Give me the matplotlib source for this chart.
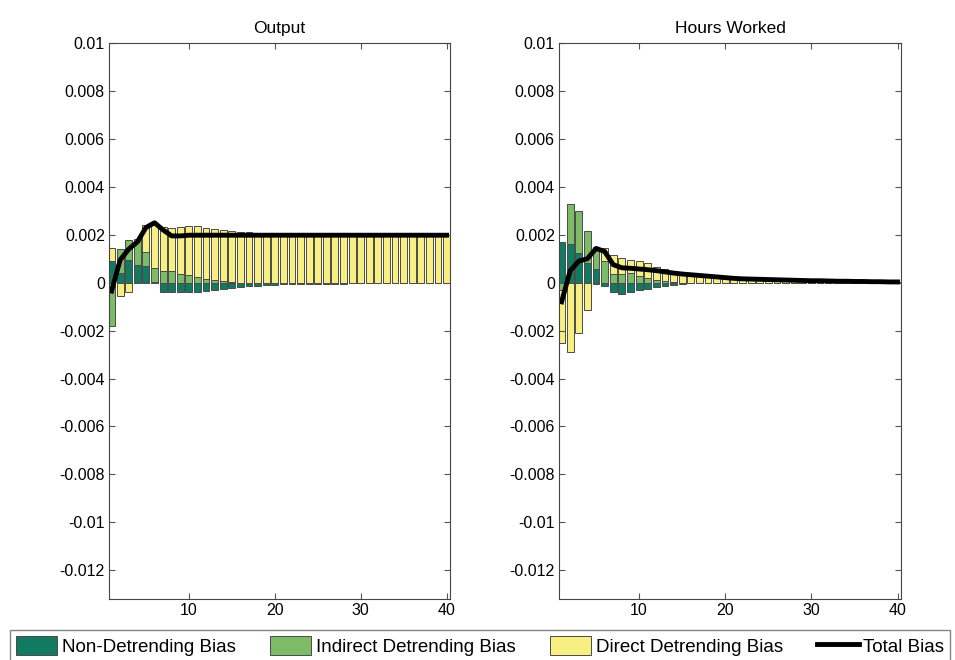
import numpy as np
import matplotlib
matplotlib.use("Agg")
import matplotlib.pyplot as plt
from matplotlib.patches import Patch
from matplotlib.lines import Line2D

plt.rcParams["font.family"] = ["Liberation Sans", "DejaVu Sans"]

periods = np.arange(1, 41)

# Output: decomposition of the bias
out_nondetrend = [0.0009, 0.0004, 0.00096, 0.00073, 0.00069, 0.00003, -0.00037, -0.00037, -0.0004, -0.0004,
                  -0.0004, -0.00035, -0.0003, -0.00028, -0.00022, -0.00018, -0.00015, -0.00012, -0.0001, -0.00008,
                  -0.00007, -0.00006, -0.00006, -0.00005, -0.00005, -0.00004, -0.00004, -0.00004, -0.00003, -0.00003,
                  -0.00003, -0.00003, -0.00002, -0.00002, -0.00002, -0.00002, -0.00002, -0.00001, -0.00001, -0.00001]
out_indirect = [-0.0018, 0.001, 0.00084, 0.001, 0.0006, 0.0006, 0.00048, 0.0005, 0.00038, 0.0003,
                0.00025, 0.00015, 0.0001, 0.00005, 0.00002, 0, 0, 0, 0, 0,
                0, 0, 0, 0, 0, 0, 0, 0, 0, 0,
                0, 0, 0, 0, 0, 0, 0, 0, 0, 0]
out_direct = [0.00055, -0.00055, -0.00037, 0.0001, 0.0011, 0.00187, 0.00186, 0.00179, 0.00196, 0.00207,
              0.00212, 0.00214, 0.00215, 0.00215, 0.00214, 0.00212, 0.0021, 0.00207, 0.00205, 0.00203,
              0.00203, 0.00202, 0.00202, 0.00202, 0.00202, 0.00201, 0.00201, 0.00201, 0.00201, 0.00201,
              0.00201, 0.00201, 0.002, 0.002, 0.002, 0.002, 0.002, 0.002, 0.002, 0.002]
out_total = [-0.00035, 0.00095, 0.0014, 0.0017, 0.0023, 0.0025, 0.0022, 0.00195, 0.00195, 0.00198,
             0.00198, 0.00198, 0.00198, 0.00198, 0.00198, 0.00198, 0.00198, 0.00198, 0.00198, 0.00198,
             0.00198, 0.00198, 0.00198, 0.00198, 0.00198, 0.00198, 0.00198, 0.00198, 0.00198, 0.00198,
             0.00198, 0.00198, 0.00198, 0.00198, 0.00198, 0.00198, 0.00198, 0.00198, 0.00198, 0.00198]

# Hours worked
hrs_nondetrend = [0.0017, 0.0016, 0.00122, 0.0008, 0.00058, -0.00015, -0.00038, -0.00048, -0.0004, -0.00032,
                  -0.00025, -0.00018, -0.00012, -0.00008, -0.00004, -0.00003, -0.00002, -0.00002, -0.00001, -0.00001,
                  0, 0, 0, 0, 0, 0, 0, 0, 0, 0,
                  0, 0, 0, 0, 0, 0, 0, 0, 0, 0]
hrs_indirect = [-0.0003, 0.0017, 0.00178, 0.00136, 0.00089, 0.00092, 0.00037, 0.00037, 0.0004, 0.00028,
                0.0002, 0.00012, 0.00006, 0.00002, 0, 0, 0, 0, 0, 0,
                0, 0, 0, 0, 0, 0, 0, 0, 0, 0,
                0, 0, 0, 0, 0, 0, 0, 0, 0, 0]
hrs_direct = [-0.0022, -0.0029, -0.0021, -0.00114, -0.00004, 0.00051, 0.0008, 0.00066, 0.00055, 0.00062,
              0.00061, 0.00055, 0.00052, 0.00042, 0.00034, 0.00032, 0.00029, 0.00027, 0.00023, 0.00021,
              0.00018, 0.00016, 0.00015, 0.00014, 0.00013, 0.00012, 0.00011, 0.0001, 0.00009, 0.00008,
              0.00008, 0.00007, 0.00006, 0.00006, 0.00005, 0.00005, 0.00004, 0.00004, 0.00003, 0.00003]
hrs_total = [-0.0008, 0.0005, 0.0009, 0.001, 0.00143, 0.0013, 0.00075, 0.00062, 0.0006, 0.00057,
             0.00054, 0.0005, 0.00045, 0.0004, 0.00036, 0.00033, 0.0003, 0.00027, 0.00024, 0.00021,
             0.00018, 0.00016, 0.00015, 0.00014, 0.00013, 0.00012, 0.00011, 0.0001, 0.00009, 0.00008,
             0.00008, 0.00007, 0.00006, 0.00006, 0.00005, 0.00005, 0.00004, 0.00004, 0.00003, 0.00003]

titles = ["Output", "Hours Worked"]
labels = ["Non-Detrending Bias", "Indirect Detrending Bias", "Direct Detrending Bias", "Total Bias"]
yticks = [0.01, 0.008, 0.006, 0.004, 0.002, 0, -0.002, -0.004, -0.006, -0.008, -0.01, -0.012]
ytick_labels = ["0.01", "0.008", "0.006", "0.004", "0.002", "0", "-0.002", "-0.004", "-0.006",
                "-0.008", "-0.01", "-0.012"]
xticks = [10, 20, 30, 40]

colors = ["#137a62", "#7dbb68", "#f7ef82"]
edge = "#4a4a4a"


def stacked_bars(ax, comps):
    pos = np.zeros(len(periods))
    neg = np.zeros(len(periods))
    for vals, c in zip(comps, colors):
        vals = np.asarray(vals)
        bottom = np.where(vals >= 0, pos, neg)
        ax.bar(periods, vals, width=0.8, bottom=bottom, color=c,
               edgecolor=edge, linewidth=0.7)
        pos = pos + np.where(vals >= 0, vals, 0)
        neg = neg + np.where(vals < 0, vals, 0)


fig = plt.figure(figsize=(9.55, 6.6), dpi=100)
ax1 = fig.add_axes([109 / 955, 1 - 599 / 660, 341 / 955, 556 / 660])
ax2 = fig.add_axes([559 / 955, 1 - 599 / 660, 342 / 955, 556 / 660])

panels = [
    (ax1, [out_nondetrend, out_indirect, out_direct], out_total),
    (ax2, [hrs_nondetrend, hrs_indirect, hrs_direct], hrs_total),
]

for (ax, comps, total), title in zip(panels, titles):
    stacked_bars(ax, comps)
    ax.plot(periods, total, color="black", linewidth=3.5)
    ax.set_xlim(0.7, 40.4)
    ax.set_ylim(-0.0132, 0.01)
    ax.set_xticks(xticks)
    ax.set_yticks(yticks)
    ax.set_yticklabels(ytick_labels)
    ax.tick_params(direction="in", top=True, right=True, labelsize=11.5,
                   length=4, color="#555555", pad=3)
    for s in ax.spines.values():
        s.set_color("#444444")
        s.set_linewidth(0.8)
    ax.set_title(title, fontsize=12.5, pad=7)

handles = [Patch(facecolor=colors[0], edgecolor=edge, linewidth=0.7),
           Patch(facecolor=colors[1], edgecolor=edge, linewidth=0.7),
           Patch(facecolor=colors[2], edgecolor=edge, linewidth=0.7),
           Line2D([0], [0], color="black", linewidth=3.5)]
leg = fig.legend(handles, labels, loc="upper left", ncol=4, mode="expand",
                 bbox_to_anchor=(10 / 955, 0, 940 / 955, 1 - 630 / 660),
                 fontsize=13.5, frameon=True, fancybox=False,
                 handlelength=2.2, handleheight=1.2, handletextpad=0.25,
                 borderpad=0.3, borderaxespad=0)
leg.get_frame().set_edgecolor("#666666")
leg.get_frame().set_linewidth(1.0)

fig.savefig("out.png", dpi=100)
